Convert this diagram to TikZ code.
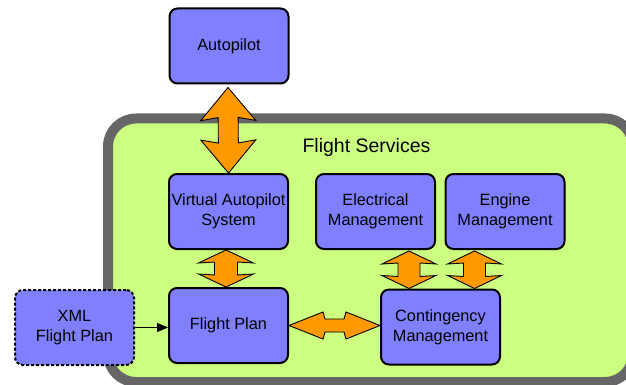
\documentclass[tikz,border=0pt]{standalone}
\usepackage{fontspec}
\setmainfont{Liberation Sans}
\usetikzlibrary{calc,arrows.meta}

\definecolor{panelgreen}{RGB}{204,255,128}
\definecolor{panelrim}{RGB}{102,102,102}
\definecolor{boxblue}{RGB}{128,128,255}
\definecolor{linkorange}{RGB}{255,153,0}

% Double-headed block arrow between two tips.
% #1,#2 tips; #3 head length; #4 barb-to-shaft distance; #5 head half width; #6 shaft half width
\newcommand\blockarrow[6]{%
  \draw[linkshape] (#1)
    -- ($(#1)!#3!(#2)!#5!90:(#2)$)
    -- ($(#1)!#4!(#2)!#6!90:(#2)$)
    -- ($(#2)!#4!(#1)!#6!-90:(#1)$)
    -- ($(#2)!#3!(#1)!#5!-90:(#1)$)
    -- (#2)
    -- ($(#2)!#3!(#1)!#5!90:(#1)$)
    -- ($(#2)!#4!(#1)!#6!90:(#1)$)
    -- ($(#1)!#4!(#2)!#6!-90:(#2)$)
    -- ($(#1)!#3!(#2)!#5!-90:(#2)$)
    -- cycle;}

\tikzset{
  module/.style={draw=black, line width=2pt, fill=boxblue, rounded corners=8pt,
    minimum width=119pt, minimum height=75pt, inner sep=0pt, align=center,
    font=\fontsize{16.3pt}{20pt}\selectfont},
  external/.style={module, dash pattern=on 3pt off 2pt},
  linkshape/.style={draw=black, line width=0.9pt, fill=linkorange, line join=miter},
  feed/.style={line width=1pt, -{Triangle[length=11pt,width=9pt]}},
}

\begin{document}
\begin{tikzpicture}[x=1pt,y=-1pt]
\useasboundingbox (0,0) rectangle (626,385);
\clip (0,0) rectangle (626,385);

% Flight services panel
\draw[line width=10pt, draw=panelrim, fill=panelgreen, rounded corners=28pt]
  (108,118.5) rectangle (633,382);
\node[anchor=base, font=\fontsize{19.5pt}{23pt}\selectfont] (title) at (366.5,153) {Flight Services};

% Modules
\node[module] (autopilot) at (229,46)    {Autopilot};
\node[module] (vas)       at (228.5,211.5) {Virtual Autopilot\\System};
\node[module] (elec)      at (375.5,211.5) {Electrical\\Management};
\node[module] (engine)    at (505,211.5)
  {\raisebox{2.5pt}{\begin{tabular}{@{}c@{}}Engine\\Management\end{tabular}}};
\node[module] (fp)        at (228.5,325.5) {Flight Plan};
\node[module] (cont)      at (440.5,327) {Contingency\\Management};
\node[external] (xml)     at (74.5,327.5) {XML\\Flight Plan};

% Links
\coordinate (apTip)  at ($(autopilot.south)+(-1,3)$);
\coordinate (vasTip) at ($(vas.north)+(0,0)$);
\blockarrow{apTip}{vasTip}{33pt}{30pt}{27.5pt}{10pt}

\coordinate (vasLow) at ($(vas.south)+(-2.5,0)$);
\coordinate (fpHigh) at ($(fp.north)+(-2.5,0)$);
\blockarrow{vasLow}{fpHigh}{13pt}{12pt}{27.5pt}{11.5pt}

\coordinate (elecLow) at ($(elec.south)+(33.5,1)$);
\coordinate (contA)   at ($(cont.north)+(-31.5,0)$);
\blockarrow{elecLow}{contA}{13pt}{12pt}{27pt}{11pt}

\coordinate (engLow) at ($(engine.south)+(-30.5,1)$);
\coordinate (contB)  at ($(cont.north)+(34,0)$);
\blockarrow{engLow}{contB}{13pt}{12pt}{27pt}{11pt}

\coordinate (fpSide)   at ($(fp.east)+(0,0)$);
\coordinate (contSide) at (fp.east -| cont.west);
\blockarrow{fpSide}{contSide}{34pt}{36pt}{13.5pt}{6.5pt}

\draw[feed] (xml.east) -- (xml.east -| fp.west);
\end{tikzpicture}
\end{document}
